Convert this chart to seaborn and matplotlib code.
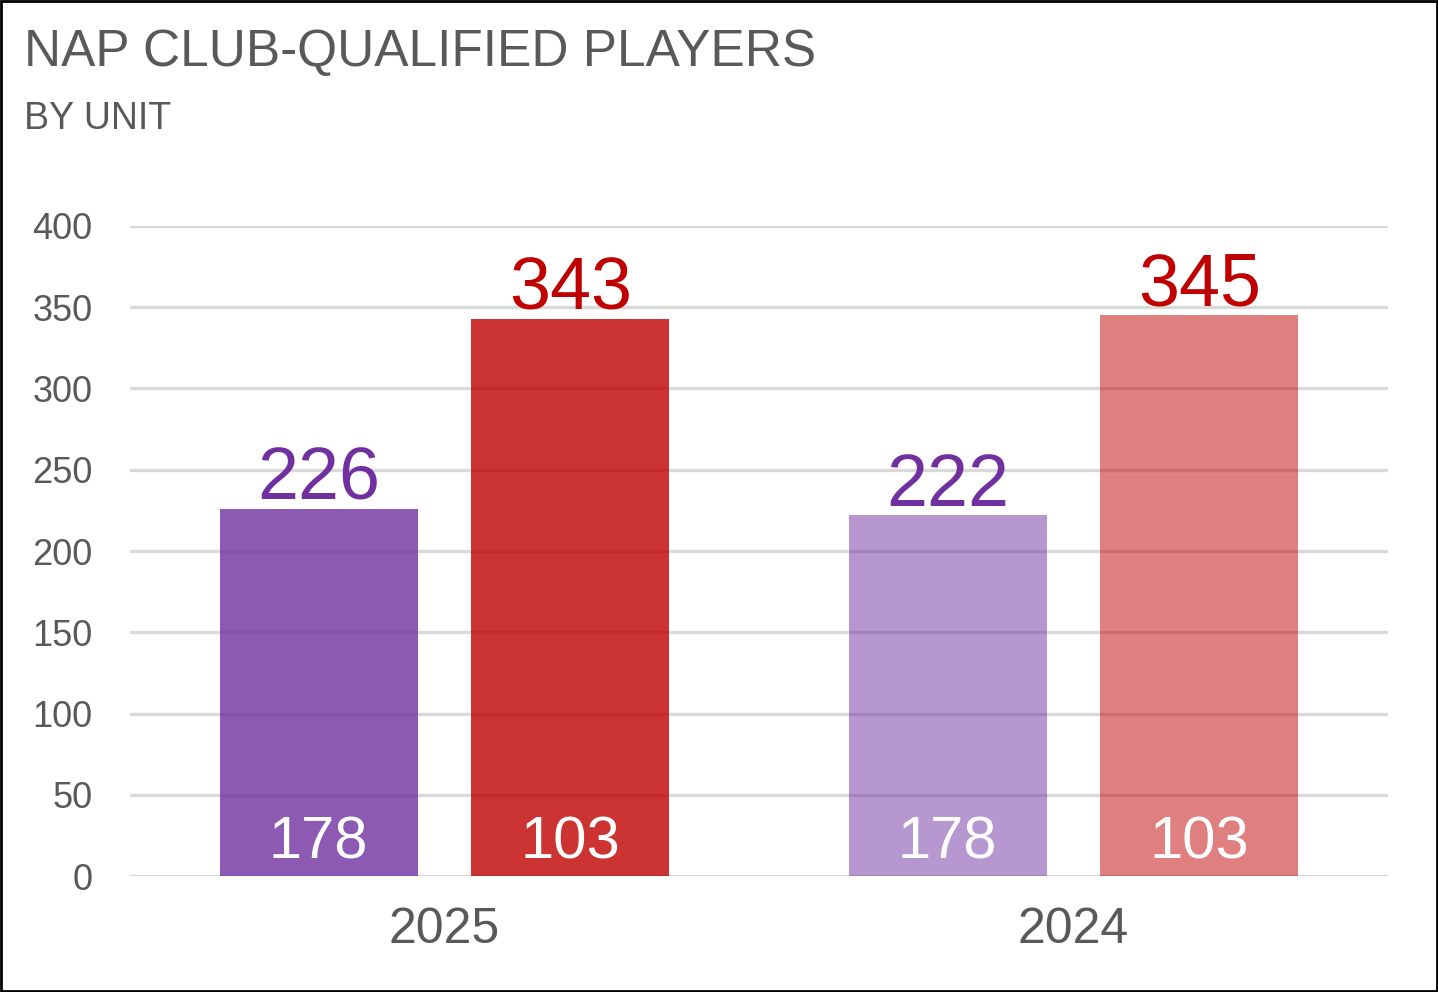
import pandas as pd
import seaborn as sns
import matplotlib.pyplot as plt
from matplotlib.patches import Rectangle

years = ["2025", "2024"]
units = ["Unit A", "Unit B"]
unit_a = [226, 222]
unit_b = [343, 345]
inner_a = [178, 178]
inner_b = [103, 103]

df = pd.DataFrame({
    "year": years * 2,
    "unit": [units[0]] * 2 + [units[1]] * 2,
    "players": unit_a + unit_b,
})

sns.set_style("white")
plt.rcParams['font.family'] = ['Liberation Sans', 'DejaVu Sans']

fig = plt.figure(figsize=(14.38, 9.92), dpi=100)
ax = fig.add_axes([0.0904, 0.1169, 0.8748, 0.6553])

sns.barplot(data=df, x="year", y="players", hue="unit", order=years,
            hue_order=units, width=0.8, gap=0.2125, dodge=True, ax=ax,
            legend=False, errorbar=None, zorder=3)

base = {units[0]: "#7030A0", units[1]: "#C00000"}
year_alpha = [0.8, 0.5]
inner = {units[0]: inner_a, units[1]: inner_b}
for unit, cont in zip(units, ax.containers):
    for i, bar in enumerate(cont):
        bar.set_facecolor(base[unit])
        bar.set_alpha(year_alpha[i])
        bar.set_edgecolor("none")
        cx = bar.get_x() + bar.get_width() / 2
        ax.annotate(str(int(bar.get_height())), (cx, bar.get_height()),
                    xytext=(0, -4), textcoords="offset points",
                    ha="center", va="bottom", fontsize=53, color=base[unit], zorder=5)
        ax.annotate(str(inner[unit][i]), (cx, 0), xytext=(0, 4),
                    textcoords="offset points", ha="center", va="bottom",
                    fontsize=43, color="white", zorder=5)

ax.set_ylim(0, 400)
ax.set_yticks(range(0, 401, 50))
ax.yaxis.grid(True, color="#D9D9D9", linewidth=2.4, zorder=0)
ax.set_axisbelow(True)
for s in ax.spines.values():
    s.set_visible(False)
ax.set_xlabel("")
ax.set_ylabel("")
ax.tick_params(axis="y", length=0, pad=27, labelsize=26, labelcolor="#595959")
ax.tick_params(axis="x", length=0, pad=22, labelsize=36, labelcolor="#595959")

fig.text(0.0167, 0.947, "NAP CLUB-QUALIFIED PLAYERS", fontsize=37, color="#595959",
         ha="left", va="center")
fig.text(0.0167, 0.88, "BY UNIT", fontsize=27, color="#595959", ha="left", va="center")

fig.patches.append(Rectangle((0.001, 0.001), 0.998, 0.998, transform=fig.transFigure,
                             fill=False, edgecolor="black", linewidth=2))

fig.savefig("out.png", dpi=100)
